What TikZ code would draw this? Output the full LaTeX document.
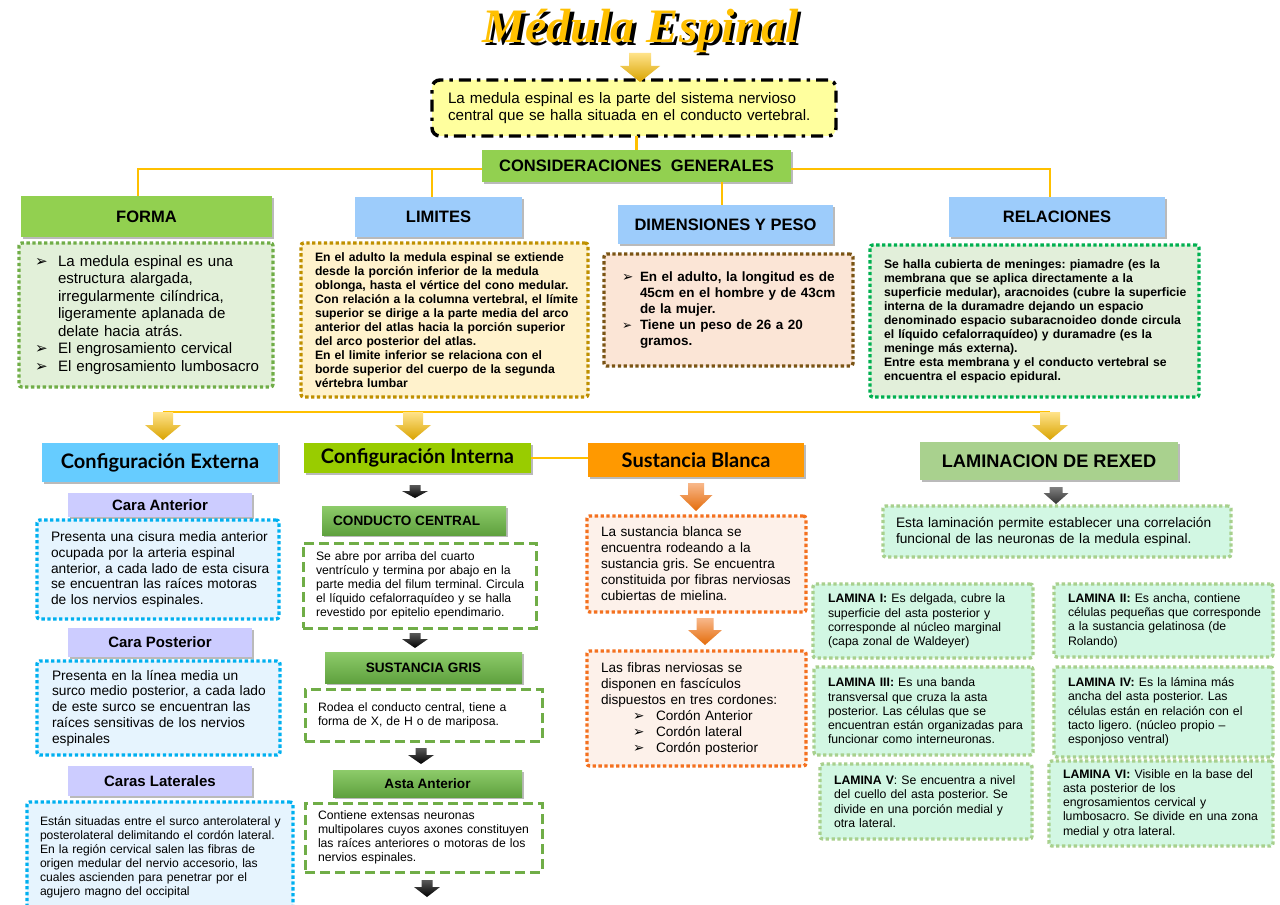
\documentclass[tikz,border=0pt]{standalone}
\usepackage{fontspec}
\setmainfont{Liberation Sans}
\newfontfamily\dejavu{DejaVu Sans}
\newfontfamily\latofont{Lato}
\newfontfamily\titlefont{Liberation Serif}
\usetikzlibrary{shadows,calc}

\definecolor{ylw}{HTML}{FFC000}
\definecolor{ylwA}{HTML}{FFE38A}
\definecolor{ylwB}{HTML}{D9A300}
\definecolor{hgreen}{HTML}{92D050}
\definecolor{hblue}{HTML}{9DCCFB}
\definecolor{defyel}{HTML}{FFFF9E}
\definecolor{formafill}{HTML}{E2F0D9}
\definecolor{formabord}{HTML}{70AD47}
\definecolor{limfill}{HTML}{FFF2CC}
\definecolor{limbord}{HTML}{BF9000}
\definecolor{dimfill}{HTML}{FBE5D6}
\definecolor{dimbord}{HTML}{7A5414}
\definecolor{relfill}{HTML}{E2EFDA}
\definecolor{relbord}{HTML}{00B050}
\definecolor{extblue}{HTML}{66CCFF}
\definecolor{intgreen}{HTML}{99CC00}
\definecolor{sborange}{HTML}{FF9900}
\definecolor{rexgreen}{HTML}{A9D18E}
\definecolor{lav}{HTML}{CCCCFF}
\definecolor{carafill}{HTML}{E6F4FE}
\definecolor{carabord}{HTML}{00B0F0}
\definecolor{ccgreenT}{HTML}{8DCB6A}
\definecolor{ccgreenB}{HTML}{5FA13E}
\definecolor{dashgreen}{HTML}{70AD47}
\definecolor{sbfill}{HTML}{FDF1EA}
\definecolor{sbbord}{HTML}{F4711F}
\definecolor{orA}{HTML}{F8B88B}
\definecolor{orB}{HTML}{E46C0A}
\definecolor{mint}{HTML}{D2F7E3}
\definecolor{mintbord}{HTML}{A8D08D}

\newcommand\bul{{\dejavu ➢}}
\newcommand\bx[8]{%
  \pgfmathsetmacro\bxw{(#5-(#3))*0.75}%
  \pgfmathsetmacro\bxh{(#6-(#4))*0.75}%
  \pgfmathsetmacro\bxp{(#7)*0.75}%
  \node[#2,anchor=north west,outer sep=0pt,minimum width=\bxw pt,minimum height=\bxh pt,text width=\bxw pt,inner xsep=0pt,inner ysep=0pt,align=left] (#1) at (#3,#4) {\frenchspacing\leftskip=\bxp pt\relax #8\par};}
\newcommand\hx[7]{%
  \pgfmathsetmacro\bxw{(#5-(#3))*0.75}%
  \pgfmathsetmacro\bxh{(#6-(#4))*0.75}%
  \node[#2,anchor=north west,outer sep=0pt,minimum width=\bxw pt,minimum height=\bxh pt,inner sep=0pt,align=center] (#1) at (#3,#4) {#7};}
\newcommand\barrow[8]{%
  \shade[top color=#7,bottom color=#8] ({#1-#5/2},#2) -- ({#1+#5/2},#2) -- ({#1+#5/2},#3) -- ({#1+#6/2},#3) -- (#1,#4) -- ({#1-#6/2},#3) -- ({#1-#5/2},#3) -- cycle;}

\tikzset{
  hshadow/.style={drop shadow={shadow xshift=1.8pt,shadow yshift=-1.8pt,opacity=0.45,fill=black!60}},
  hdr/.style={hshadow,font=\bfseries\fontsize{12.4}{14}\selectfont},
  hdrtwo/.style={hshadow,font=\latofont\bfseries\fontsize{15}{17}\selectfont},
  hdrthree/.style={hshadow,fill=lav,font=\bfseries\fontsize{11.25}{13}\selectfont},
  hdrfour/.style={hshadow,top color=ccgreenT,bottom color=ccgreenB,font=\bfseries\fontsize{10.2}{12}\selectfont},
  dotbox/.style={line width=2.5pt,dash pattern=on 2.5pt off 1.9pt,rounded corners=2pt},
  dashbox/.style={fill=white,draw=dashgreen,line width=2.25pt,dash pattern=on 7.5pt off 3.75pt,font=\fontsize{9.15}{10.5}\selectfont},
  lambox/.style={dotbox,fill=mint,draw=mintbord,font=\fontsize{9.2}{10.7}\selectfont},
  yline/.style={draw=ylw,line width=2pt},
}

\begin{document}
\begin{tikzpicture}[x=0.75pt,y=-0.75pt]
\useasboundingbox (0,0) rectangle (1280,905);
\fill[white] (0,0) rectangle (1280,905);

% title (yellow letters with a black shadow)
\node[font=\titlefont\bfseries\itshape\fontsize{36}{36}\selectfont,text=ylw] (title) at (641,32) {\makebox[0pt][l]{\hspace*{2.3pt}\raisebox{-2.3pt}{\color{black}Médula Espinal}}Médula Espinal};

% definition
\bx{def}{fill=defyel,draw=black,line width=2.6pt,dash pattern=on 9pt off 4.5pt on 2.6pt off 4.5pt,rounded corners=6pt,font=\fontsize{11.4}{12.75}\selectfont}{432}{80}{836}{136}{16}{La medula espinal es la parte del sistema nervioso\\central que se halla situada en el conducto vertebral.}
\barrow{640}{53}{66}{82}{22}{40}{ylwA}{ylwB}

% consideraciones
\hx{cons}{hdr,fill=hgreen}{482}{150}{791}{182}{CONSIDERACIONES\ \ GENERALES}

\hx{forma}{hdr,fill=hgreen}{21}{196}{272}{237}{FORMA}
\hx{limites}{hdr,fill=hblue}{355}{197}{522}{237}{LIMITES}
\hx{dim}{hdr,fill=hblue}{618}{205}{833}{244}{DIMENSIONES Y PESO}
\hx{rel}{hdr,fill=hblue}{949}{197}{1165}{237}{RELACIONES}

\coordinate (jL) at (138,169);
\coordinate (jLim) at (432,169);
\coordinate (jR) at (1050,169);
\coordinate (jD) at (722,182);
\draw[yline] (cons.north) -- (cons.north |- def.south);
\draw[yline] (cons.west |- jL) -- (jL) -- (jL |- forma.north);
\draw[yline] (jLim) -- (jLim |- limites.north);
\draw[yline] (cons.east |- jR) -- (jR) -- (jR |- rel.north);
\draw[yline] (jD |- cons.south) -- (jD |- dim.north);

\bx{formab}{dotbox,fill=formafill,draw=formabord,font=\fontsize{11.3}{13.1}\selectfont}{19}{243}{273}{387}{16}{%
\makebox[17.25pt][l]{\bul}La medula espinal es una\\
\hspace*{17.25pt}estructura alargada,\\
\hspace*{17.25pt}irregularmente cilíndrica,\\
\hspace*{17.25pt}ligeramente aplanada de\\
\hspace*{17.25pt}delate hacia atrás.\\
\makebox[17.25pt][l]{\bul}El engrosamiento cervical\\
\makebox[17.25pt][l]{\bul}El engrosamiento lumbosacro}

\bx{limb}{dotbox,fill=limfill,draw=limbord,font=\bfseries\fontsize{9.15}{10.5}\selectfont}{301}{243}{588}{397}{14}{%
En el adulto la medula espinal se extiende\\
desde la porción inferior de la medula\\
oblonga, hasta el vértice del cono medular.\\
Con relación a la columna vertebral, el límite\\
superior se dirige a la parte media del arco\\
anterior del atlas hacia la porción superior\\
del arco posterior del atlas.\\
En el limite inferior se relaciona con el\\
borde superior del cuerpo de la segunda\\
vértebra lumbar}

\bx{dimb}{dotbox,fill=dimfill,draw=dimbord,font=\bfseries\fontsize{10.1}{12}\selectfont}{604}{254}{853}{366}{18}{%
\makebox[13.5pt][l]{\bul}En el adulto, la longitud es de\\
\hspace*{13.5pt}45cm en el hombre y de 43cm\\
\hspace*{13.5pt}de la mujer.\\
\makebox[13.5pt][l]{\small\bul}Tiene un peso de 26 a 20\\
\hspace*{13.5pt}gramos.}

\bx{relb}{dotbox,fill=relfill,draw=relbord,font=\bfseries\fontsize{9.15}{10.5}\selectfont}{870}{245}{1199}{397}{14}{%
Se halla cubierta de meninges: piamadre (es la\\
membrana que se aplica directamente a la\\
superficie medular), aracnoides (cubre la superficie\\
interna de la duramadre dejando un espacio\\
denominado espacio subaracnoideo donde circula\\
el líquido cefalorraquídeo) y duramadre (es la\\
meninge más externa).\\
Entre esta membrana y el conducto vertebral se\\
encuentra el espacio epidural.}

% second row
\coordinate (r2L) at (163,412);
\coordinate (r2M) at (413,412);
\coordinate (r2R) at (1050,412);
\draw[yline] (r2L) -- (r2R);
\barrow{163}{412}{425}{440}{20}{36}{ylwA}{ylwB}
\barrow{413}{412}{425}{440}{20}{36}{ylwA}{ylwB}
\barrow{1050}{412}{425}{440}{20}{36}{ylwA}{ylwB}

\hx{cext}{hdrtwo,fill=extblue}{42}{443}{278}{482}{Configuración Externa}
\hx{cint}{hdrtwo,fill=intgreen}{304}{443}{531}{473}{Configuración Interna}
\hx{sbl}{hdrtwo,fill=sborange}{588}{443}{804}{477}{Sustancia Blanca}
\hx{lam}{hdr,fill=rexgreen,font=\bfseries\fontsize{13.65}{15}\selectfont}{920}{442}{1178}{480}{LAMINACION DE REXED}
\draw[yline] (cint.east) -- (cint.east -| sbl.west);

% configuracion externa
\hx{cant}{hdrthree}{68}{493}{252}{517}{Cara Anterior}
\bx{cantb}{dotbox,fill=carafill,draw=carabord,font=\fontsize{10.3}{11.8}\selectfont}{37}{520}{279}{619}{14}{%
Presenta una cisura media anterior\\
ocupada por la arteria espinal\\
anterior, a cada lado de esta cisura\\
se encuentran las raíces motoras\\
de los nervios espinales.}
\hx{cpos}{hdrthree}{68}{628}{252}{657}{Cara Posterior}
\bx{cposb}{dotbox,fill=carafill,draw=carabord,font=\fontsize{10.3}{11.8}\selectfont}{37}{661}{280}{755}{15}{%
Presenta en la línea media un\\
surco medio posterior, a cada lado\\
de este surco se encuentran las\\
raíces sensitivas de los nervios\\
espinales}
\hx{clat}{hdrthree}{68}{766}{252}{796}{Caras Laterales}
\bx{clatb}{dotbox,fill=carafill,draw=carabord,font=\fontsize{9.1}{10.5}\selectfont}{27}{802}{293}{912}{13}{%
Están situadas entre el surco anterolateral y\\
posterolateral delimitando el cordón lateral.\\
En la región cervical salen las fibras de\\
origen medular del nervio accesorio, las\\
cuales ascienden para penetrar por el\\
agujero magno del occipital}

% configuracion interna
\barrow{415}{485}{491}{498}{11}{26}{black!65}{black}
\hx{cc}{hdrfour}{322}{506}{506}{535}{\hspace*{-11pt}CONDUCTO CENTRAL}
\bx{ccb}{dashbox}{303}{543}{536}{628}{13}{%
Se abre por arriba del cuarto\\
ventrículo y termina por abajo en la\\
parte media del filum terminal. Circula\\
el líquido cefalorraquídeo y se halla\\
revestido por epitelio ependimario.}
\barrow{415}{633}{639}{648}{11}{26}{black!65}{black}
\hx{sg}{hdrfour}{325}{652}{522}{683}{SUSTANCIA GRIS}
\bx{sgb}{dashbox}{305}{689}{542}{741}{13}{%
Rodea el conducto central, tiene a\\
forma de X, de H o de mariposa.}
\barrow{421}{748}{755}{764}{11}{26}{black!65}{black}
\hx{aa}{hdrfour}{333}{770}{522}{797}{Asta Anterior}
\bx{aab}{dashbox}{305}{803}{542}{872}{13}{%
Contiene extensas neuronas\\
multipolares cuyos axones constituyen\\
las raíces anteriores o motoras de los\\
nervios espinales.}
\barrow{427}{880}{887}{897}{11}{26}{black!65}{black}

% sustancia blanca
\barrow{696}{483}{495}{511}{16}{33}{orA}{orB}
\bx{sb1}{dotbox,fill=sbfill,draw=sbbord,font=\fontsize{10.2}{12}\selectfont}{587}{516}{806}{612}{14}{%
La sustancia blanca se\\
encuentra rodeando a la\\
sustancia gris. Se encuentra\\
constituida por fibras nerviosas\\
cubiertas de mielina.}
\barrow{705}{618}{630}{645}{17}{34}{orA}{orB}
\bx{sb2}{dotbox,fill=sbfill,draw=sbbord,font=\fontsize{10.2}{12}\selectfont}{587}{651}{806}{766}{14}{%
Las fibras nerviosas se\\
disponen en fascículos\\
dispuestos en tres cordones:\\
\hspace*{24pt}\makebox[17.25pt][l]{\bul}Cordón Anterior\\
\hspace*{24pt}\makebox[17.25pt][l]{\bul}Cordón lateral\\
\hspace*{24pt}\makebox[17.25pt][l]{\bul}Cordón posterior}

% laminacion de rexed
\barrow{1056}{487}{493}{504}{13}{25}{black!50}{black!80}
\bx{rex}{dotbox,fill=mint,draw=mintbord,font=\fontsize{10.3}{12}\selectfont}{883}{506}{1231}{557}{13}{%
Esta laminación permite establecer una correlación\\
funcional de las neuronas de la medula espinal.}

\bx{l1}{lambox}{813}{584}{1033}{658}{15}{%
\textbf{LAMINA I:} Es delgada, cubre la\\
superficie del asta posterior y\\
corresponde al núcleo marginal\\
(capa zonal de Waldeyer)}
\bx{l2}{lambox}{1054}{584}{1273}{657}{14}{%
\textbf{LAMINA II:} Es ancha, contiene\\
células pequeñas que corresponde\\
a la sustancia gelatinosa (de\\
Rolando)}
\bx{l3}{lambox}{814}{667}{1033}{755}{14}{%
\textbf{LAMINA III:} Es una banda\\
transversal que cruza la asta\\
posterior. Las células que se\\
encuentran están organizadas para\\
funcionar como interneuronas.}
\bx{l4}{lambox}{1054}{667}{1273}{757}{14}{%
\textbf{LAMINA IV:} Es la lámina más\\
ancha del asta posterior. Las\\
células están en relación con el\\
tacto ligero. (núcleo propio –\\
esponjoso ventral)}
\bx{l5}{lambox}{820}{764}{1032}{839}{14}{%
\textbf{LAMINA V}: Se encuentra a nivel\\
del cuello del asta posterior. Se\\
divide en una porción medial y\\
otra lateral.}
\bx{l6}{lambox}{1049}{761}{1273}{846}{14}{%
\textbf{LAMINA VI:} Visible en la base del\\
asta posterior de los\\
engrosamientos cervical y\\
lumbosacro. Se divide en una zona\\
medial y otra lateral.}
\end{tikzpicture}
\end{document}
